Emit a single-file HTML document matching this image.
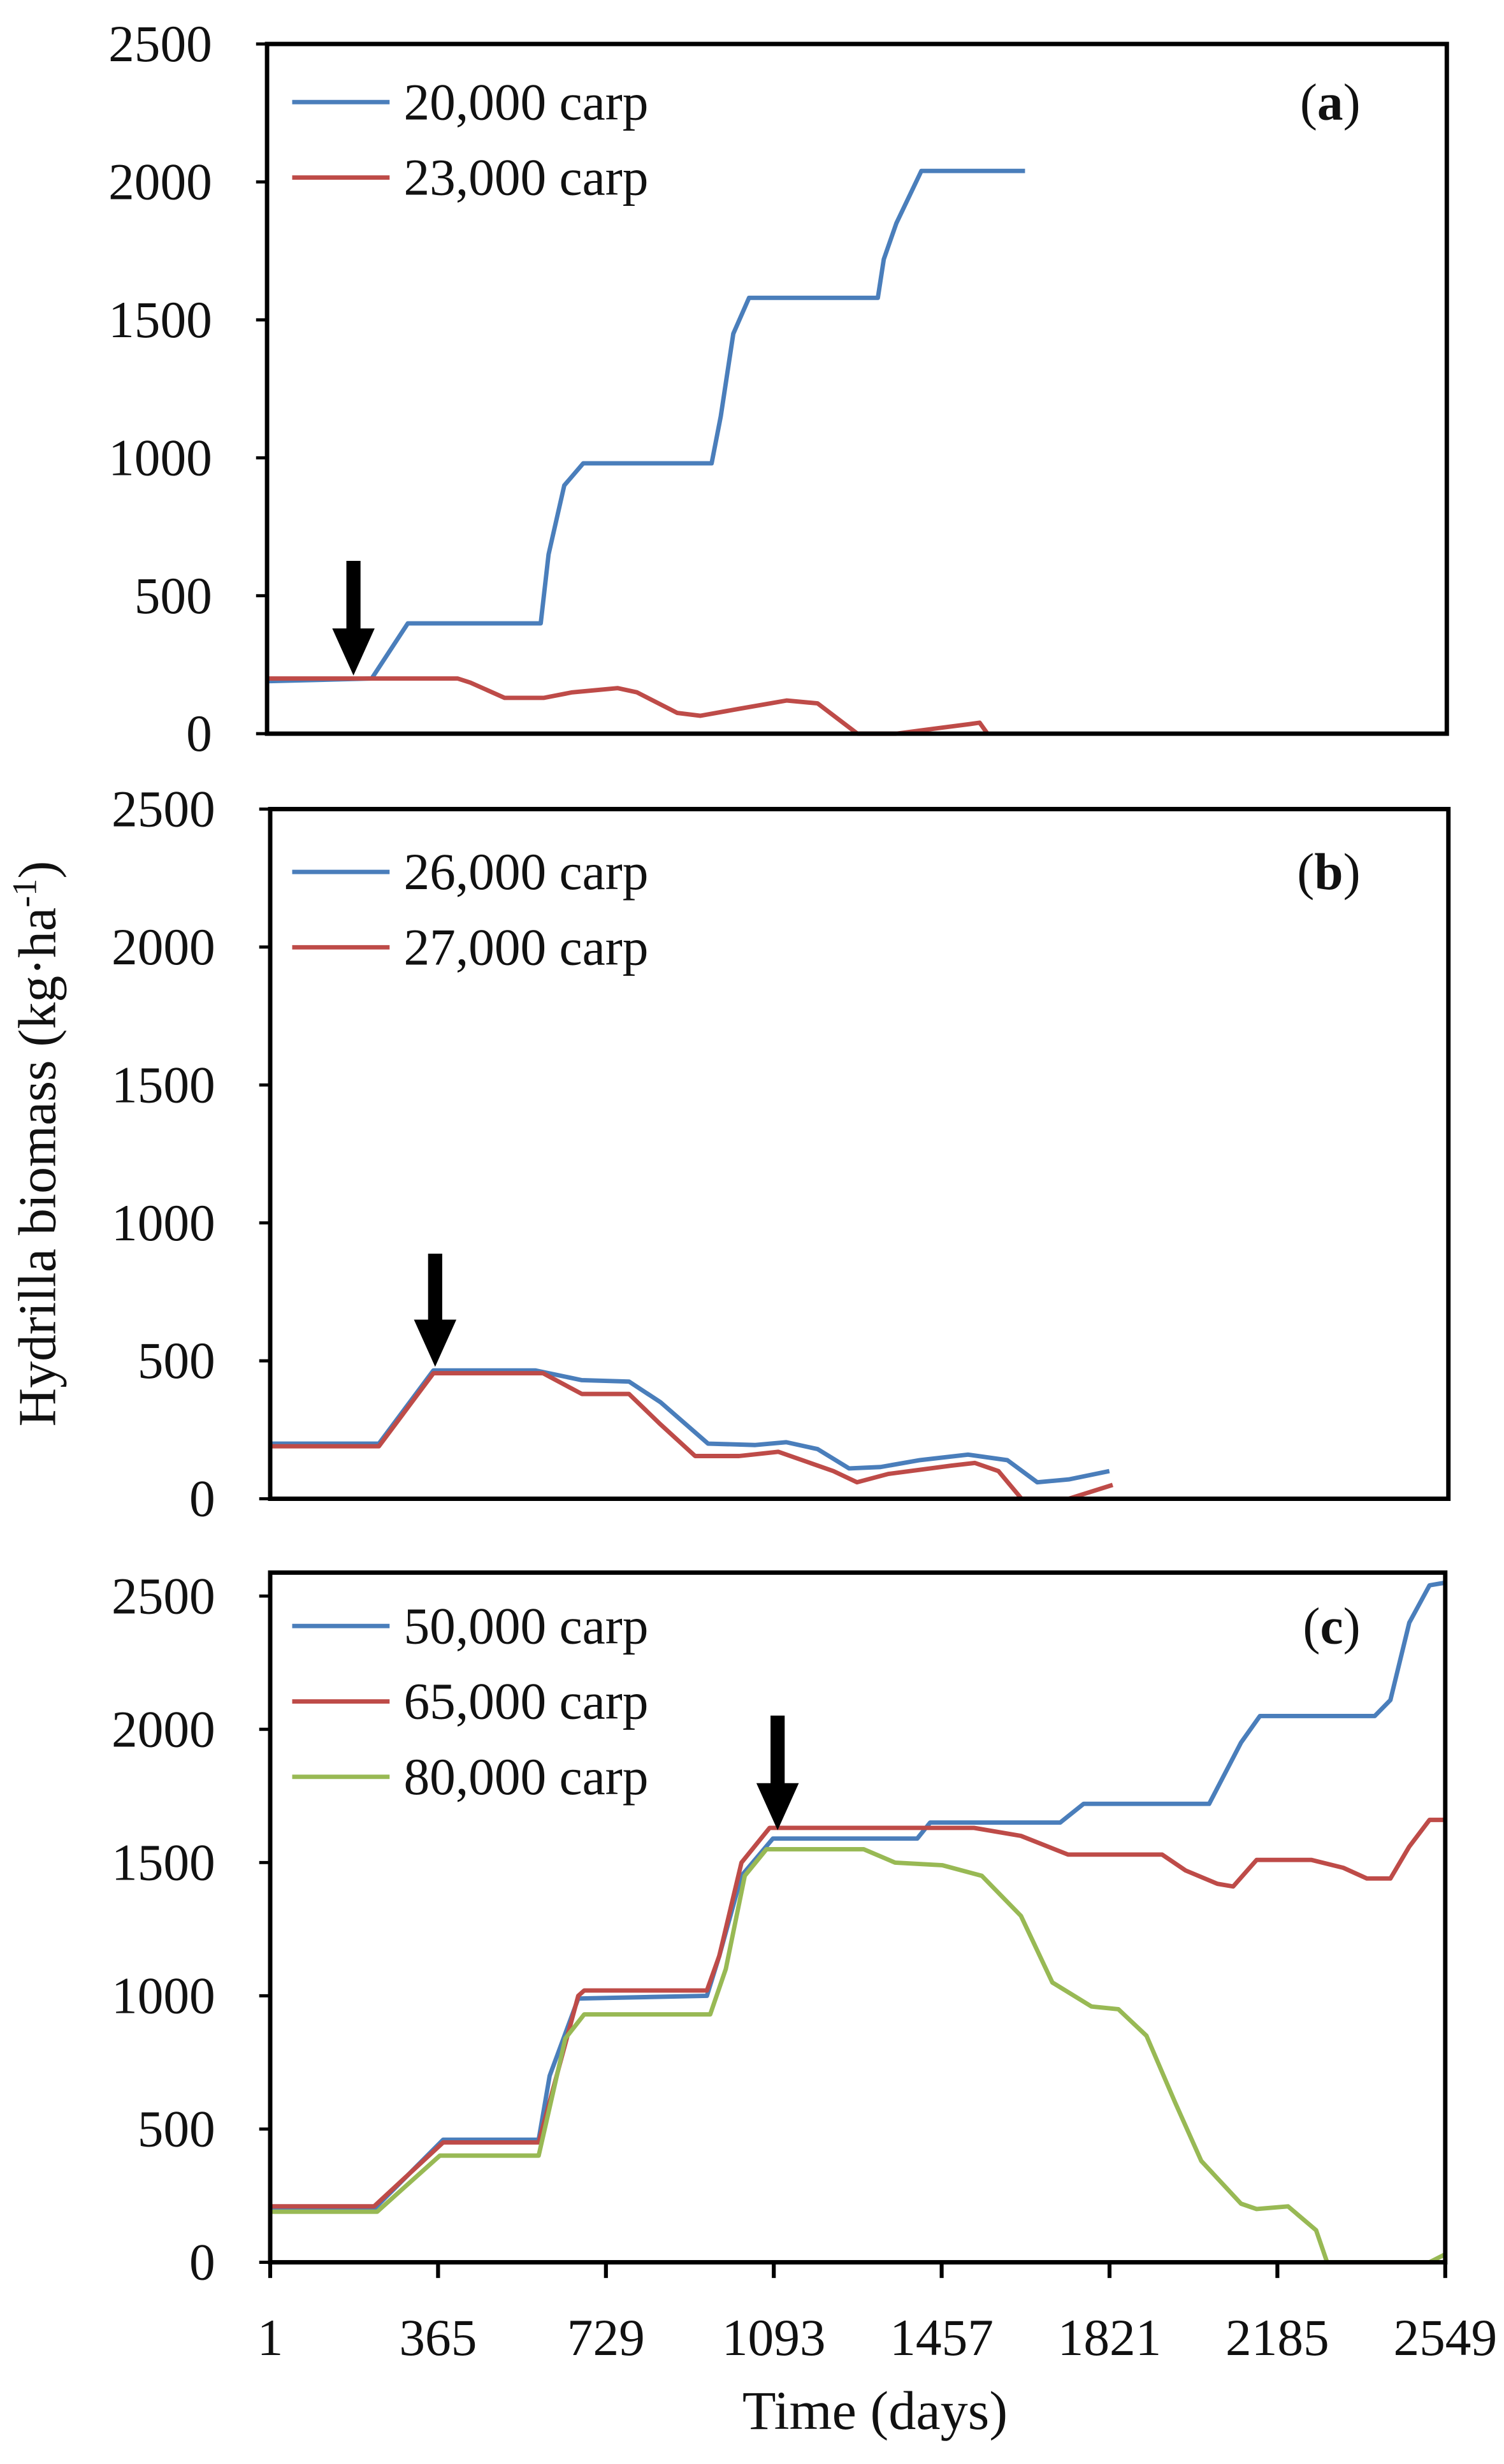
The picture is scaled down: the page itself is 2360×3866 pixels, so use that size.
<!DOCTYPE html>
<html><head><meta charset="utf-8"><style>
html,body{margin:0;padding:0;background:#fff;}
svg{display:block;}
text{font-family:"Liberation Serif",serif;fill:#111;}
</style></head><body>
<svg id="fig" xmlns="http://www.w3.org/2000/svg" width="2360" height="3866" viewBox="0 0 957.4 1568.4" preserveAspectRatio="none">
<text x="0" y="0" font-size="34" text-anchor="middle" transform="translate(35,728) rotate(-90)">Hydrilla biomass (kg·ha<tspan font-size="22" dy="-12">-1</tspan><tspan dy="12">)</tspan></text>
<text x="557" y="1546" font-size="35" text-anchor="middle">Time (days)</text>
<g id="plots"></g>
</svg>
<script>
// ---- data ----
const xTickLabels = [1, 365, 729, 1093, 1457, 1821, 2185, 2549];
const yTickLabels = [0, 500, 1000, 1500, 2000, 2500];

const aBlueDays = [1, 227, 305, 592, 609, 643, 684, 961, 981, 1008, 1042, 1320, 1333, 1360, 1414, 1638];
const aBlueVals = [190, 200, 400, 400, 650, 900, 980, 980, 1150, 1450, 1580, 1580, 1720, 1850, 2040, 2040];
const aRedDays = [1, 413, 440, 514, 599, 660, 758, 800, 887, 937, 1020, 1123, 1190, 1276, 1360, 1450, 1519, 1540, 1557];
const aRedVals = [200, 200, 185, 130, 130, 150, 165, 150, 75, 65, 90, 120, 110, 0, 0, 20, 35, 40, 0];

const bBlueDays = [1, 236, 354, 574, 675, 777, 845, 948, 1050, 1117, 1185, 1253, 1321, 1406, 1510, 1595, 1660, 1728, 1816];
const bBlueVals = [200, 200, 465, 465, 430, 425, 350, 200, 195, 205, 180, 110, 115, 140, 160, 140, 60, 70, 100];
const bRedDays = [1, 236, 354, 591, 675, 777, 845, 920, 1015, 1100, 1219, 1270, 1338, 1474, 1525, 1576, 1626, 1728, 1823];
const bRedVals = [190, 190, 455, 455, 380, 380, 270, 155, 155, 170, 100, 60, 90, 120, 130, 100, 0, 0, 50];

const cBlueDays = [1, 226, 376, 583, 607, 669, 948, 975, 1023, 1091, 1404, 1432, 1714, 1765, 2020, 2037, 2106, 2147, 2396, 2430, 2471, 2515, 2549];
const cBlueVals = [200, 200, 460, 460, 700, 990, 1000, 1150, 1450, 1590, 1590, 1650, 1650, 1720, 1720, 1720, 1950, 2050, 2050, 2110, 2400, 2540, 2550];
const cRedDays = [1, 226, 376, 583, 669, 682, 948, 975, 1023, 1084, 1527, 1629, 1731, 1935, 1986, 2055, 2089, 2140, 2259, 2328, 2379, 2430, 2471, 2515, 2549];
const cRedVals = [210, 210, 450, 450, 1000, 1020, 1020, 1150, 1500, 1630, 1630, 1600, 1530, 1530, 1470, 1420, 1410, 1510, 1510, 1480, 1440, 1440, 1560, 1660, 1660];
const cGreenDays = [1, 233, 369, 583, 641, 682, 955, 989, 1030, 1077, 1288, 1356, 1459, 1544, 1629, 1697, 1782, 1840, 1901, 1963, 2020, 2106, 2140, 2208, 2269, 2293, 2515, 2549];
const cGreenVals = [190, 190, 400, 400, 840, 930, 930, 1100, 1450, 1550, 1550, 1500, 1490, 1450, 1300, 1050, 960, 950, 850, 600, 380, 220, 200, 210, 120, 0, 0, 30];

// ---- layout ----
const NS = 'http://www.w3.org/2000/svg';
const root = document.getElementById('plots');
const COLORS = {blue: '#4a7ebb', red: '#be4b48', green: '#98b954'};
function mk(tag, attrs, parent) {
  const e = document.createElementNS(NS, tag);
  for (const k in attrs) e.setAttribute(k, attrs[k]);
  (parent || root).appendChild(e);
  return e;
}
const panels = [
  {id: 'a', l: 170, r: 921, t: 28, b: 467, ymax: 2500, xt: false,
   series: [[aBlueDays, aBlueVals, 'blue', '20,000 carp'], [aRedDays, aRedVals, 'red', '23,000 carp']],
   arrow: [225, 357, 430], legY: 65},
  {id: 'b', l: 172, r: 922, t: 515, b: 954, ymax: 2500, xt: false,
   series: [[bBlueDays, bBlueVals, 'blue', '26,000 carp'], [bRedDays, bRedVals, 'red', '27,000 carp']],
   arrow: [277, 798, 870], legY: 555},
  {id: 'c', l: 172, r: 920, t: 1001, b: 1440, ymax: 2588, xt: true,
   series: [[cBlueDays, cBlueVals, 'blue', '50,000 carp'], [cRedDays, cRedVals, 'red', '65,000 carp'], [cGreenDays, cGreenVals, 'green', '80,000 carp']],
   arrow: [495, 1092, 1165], legY: 1035}
];
panels.forEach(p => {
  const g = mk('g', {});
  
  
  const xs = d => p.l + (d - 1) / 2548 * (p.r - p.l);
  const ys = v => p.b - v / p.ymax * (p.b - p.t);
  yTickLabels.forEach(v => {
    const tk = mk('line', {x1: p.l - 7, x2: p.l, y1: ys(v), y2: ys(v), stroke: '#000', 'stroke-width': 2}, g);
    
    
    const t = mk('text', {x: p.l - 35, y: ys(v) + 11, 'font-size': 33, 'text-anchor': 'end'}, g);
    t.textContent = v;
    
    
  });
  if (p.xt) {
    xTickLabels.forEach(d => {
      const tk = mk('line', {x1: xs(d), x2: xs(d), y1: p.b, y2: p.b + 10, stroke: '#000', 'stroke-width': 2.5}, g);
      
      
      const t = mk('text', {x: xs(d), y: 1499, 'font-size': 33, 'text-anchor': 'middle'}, g);
      t.textContent = d;
      
      
    });
  }
  p.series.forEach((s, i) => {
    const [days, vals, col, name] = s;
    const pts = days.map((d, k) => xs(d).toFixed(1) + ',' + ys(vals[k]).toFixed(1)).join(' ');
    const pl = mk('polyline', {points: pts, fill: 'none', stroke: COLORS[col], 'stroke-width': 2.8, 'stroke-linejoin': 'round'}, g);
    
    
    const ly = p.legY + i * 48;
    const ll = mk('line', {x1: 186, x2: 248, y1: ly, y2: ly, stroke: COLORS[col], 'stroke-width': 2.8}, g);
    
    
    const lt = mk('text', {x: 257, y: ly + 11, 'font-size': 33}, g);
    lt.textContent = name;
    
    
  });
  const fr = mk('rect', {x: p.l, y: p.t, width: p.r - p.l, height: p.b - p.t, fill: 'none', stroke: '#000', 'stroke-width': 2.8}, g);
  
  
  const pt = mk('text', {x: 866, y: p.legY + 11, 'font-size': 33, 'text-anchor': 'end'}, g);
  pt.innerHTML = '(<tspan font-weight="bold">' + p.id + '</tspan>)';
  
  
  const [ax, ay1, ay2] = p.arrow;
  const ar = mk('path', {d: `M${ax-4.5},${ay1} h9 v${ay2-ay1-30} h9 l-13.5,30 l-13.5,-30 h9 z`, fill: '#000'}, g);
  
  
});
</script>
</body></html>
